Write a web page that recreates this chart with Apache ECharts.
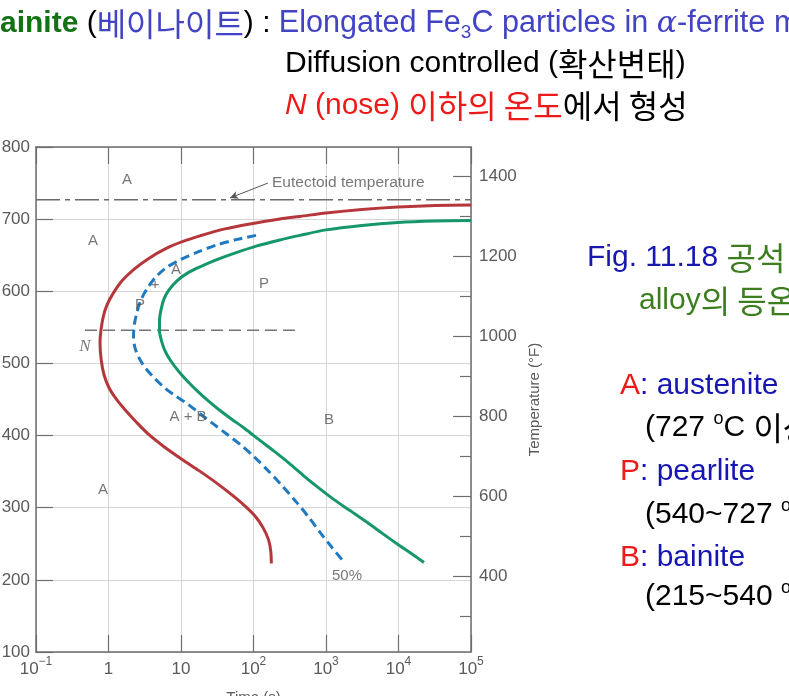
<!DOCTYPE html>
<html><head><meta charset="utf-8">
<script src="https://cdn.jsdelivr.net/npm/echarts@6/dist/echarts.min.js"></script>
<style>html,body{margin:0;padding:0;background:#fff}#c{width:789px;height:696px}</style>
</head><body><div id="c"></div>
<script>
// ---------- data ----------
const timeRange = [0.1, 100000];           // s (log)
const tempRangeC = [100, 800];             // °C
const tempRangeF = [212, 1472];            // °F, same span as °C axis
const tempMajorF = [400, 600, 800, 1000, 1200, 1400];
const tempMinorF = [300, 500, 700, 900, 1100, 1300];

// transformation start (red)
const startCurve = [[100000,719.7],[31870,719.0],[9843,716.9],[3138,713.5],[1000,708.6],[437.8,703.8],
  [232.1,700.3],[98.4,694.1],[40.46,686.5],[18.29,676.8],[10.66,669.1],[6.352,659.7],[3.506,644.9],
  [2.198,629.7],[1.536,614.5],[1.165,597.4],[0.9535,581.2],[0.8479,565.0],[0.7882,546.6],[0.7634,528.6],
  [0.793,505.1],[0.8669,484.3],[1.016,466.3],[1.269,451.1],[1.689,435.8],[2.395,419.2],[3.62,401.2],
  [5.83,384.6],[10,368],[17.71,351.4],[30.39,334.8],[48.95,318.8],[73.96,303.6],[104.9,288.4],
  [135.2,272.4],[161,255.8],[173.3,239.2],[176.1,222.6]];
// 50% transformation (blue dashed)
const halfCurve = [[108.3,677.5],[59.22,671.9],[31.37,664.3],[17.16,654.6],[9.687,643.5],[6.211,632.5],
  [4.378,618.6],[3.396,603.4],[2.808,588.1],[2.473,571.5],[2.284,554.9],[2.213,538.3],[2.321,521.7],
  [2.677,506.5],[3.29,492.6],[4.378,478.8],[6.017,465.6],[8.531,454.5],[12.49,443.4],[18.29,430.3],
  [27.63,416.5],[43.1,401.9],[67.23,386.7],[101.6,370.8],[158.5,351.4],[247.3,330.6],[385.8,308.4],
  [583,286.3],[853.1,264.1],[1210,244.8],[1743,225.4]];
// transformation finish (green)
const finishCurve = [[100000,698.2],[31870,697.5],[9843,695.5],[3138,691.3],[1000,685.1],[437.8,677.5],
  [232.1,671.2],[111.8,662.9],[53.83,652.5],[29.44,642.8],[18.29,633.8],[12.1,624.8],[8.808,614.5],
  [6.831,602],[5.83,589.5],[5.299,574.3],[5.052,559.1],[5.052,545.2],[5.383,531.4],[6.017,517.5],
  [7.278,503],[9.385,488.5],[12.49,474.6],[17.16,460.8],[23.57,448.3],[33.43,435.8],[48.95,423.4],
  [76.33,409.5],[119.1,394.3],[191.8,378.4],[308.9,361.8],[497.3,343.8],[800.7,327.1],[1289,311.2],
  [2143,296],[3562,280.8],[5921,264.8],[9843,248.9],[15360,235.8],[22470,224]];

const eutectoidLine = [[0.1,727],[100000,727]];
const noseLine = [[0.474,546],[373,546]];
const regionLabels = [[1.80,754.3,'A'],[0.61,669.8,'A'],[8.53,629.7,'A'],[4.38,608.9,'+'],[2.72,581.2,'P'],
  [139.6,610.3,'P'],[12.5,426.1,'A + B'],[1099,422,'B'],[0.84,325,'A'],[1950,206,'50%']];
const noseLabel = [[0.474,523,'N']];
const eutectoidLabel = [[180,750.2,'Eutectoid temperature']];
const arrowPath = [[158,750],[47.4,729.4]];

// ---------- chart ----------
const AX = '#6e6e6e', LBL = '#5a5a5a', GRID = '#d6d6d6';
const SANS = '"Liberation Sans", Arial, "Noto Sans CJK KR", sans-serif';
const KR = '"Noto Sans CJK KR", sans-serif';

function timeLabel(v) {
  const e = Math.round(Math.log10(v));
  if (e === 0) return '{b|1}';
  if (e === 1) return '{b|10}';
  const sup = e < 0 ? '\u2212' + Math.abs(e) : String(e);
  return '{b|10}{s|' + sup + '}';
}

const chart = echarts.init(document.getElementById('c'), null, {renderer: 'canvas'});
const txt = (x, y, text, rich) => ({
  type: 'text', x: x, y: y, silent: true,
  style: {text: text, rich: rich, fontSize: 30, lineHeight: 36, fontFamily: SANS, fill: '#000', verticalAlign: 'middle', align: 'left'}
});
const mk = (fill, extra) => Object.assign({fill: fill, fontSize: 30, lineHeight: 36, fontFamily: SANS}, extra || {});
const R = {
  g: mk('#137213', {fontWeight: 'bold'}),
  b: mk('#4343c6'),
  bw: mk('#4343c6', {fontSize: 30.6}),
  bk: mk('#4343c6', {fontSize: 32, fontFamily: KR}),
  bs: mk('#4343c6', {fontSize: 19, lineHeight: 18, verticalAlign: 'bottom'}),
  ba: mk('#4343c6', {fontStyle: 'italic', fontFamily: '"DejaVu Serif", "Liberation Serif", serif'}),
  k: mk('#000'),
  kk: mk('#000', {fontSize: 32, fontFamily: KR}),
  r: mk('#ee1a1a'),
  rk: mk('#ee1a1a', {fontSize: 32, fontFamily: KR}),
  ri: mk('#ee1a1a', {fontStyle: 'italic'}),
  fb: mk('#1818b0'),
  fg: mk('#3c7d1e'),
  fgk: mk('#3c7d1e', {fontSize: 32, fontFamily: KR}),
  db: mk('#1616b4'),
  sup: mk('#000', {fontSize: 18, lineHeight: 18, verticalAlign: 'top'})
};

const option = {
  backgroundColor: '#fff',
  animation: false,
  grid: {left: 36, right: 318, top: 147, bottom: 44, containLabel: false, outerBoundsMode: 'none'},
  xAxis: [{
    type: 'log', logBase: 10, min: timeRange[0], max: timeRange[1],
    name: 'Time (s)', nameLocation: 'middle', nameGap: 38,
    nameTextStyle: {color: LBL, fontSize: 15, fontFamily: SANS},
    axisLine: {show: true, lineStyle: {color: AX, width: 1.5}},
    axisTick: {show: true, inside: true, length: 17, lineStyle: {color: AX, width: 1.2}},
    axisLabel: {show: true, margin: 4, formatter: timeLabel, color: LBL,
      rich: {b: {fontSize: 17, lineHeight: 26, color: LBL, fontFamily: SANS},
             s: {fontSize: 12, lineHeight: 10, verticalAlign: 'top', color: LBL, fontFamily: SANS}}},
    splitLine: {show: true, lineStyle: {color: GRID, width: 1}},
    minorTick: {show: false}
  }, {
    type: 'log', logBase: 10, min: timeRange[0], max: timeRange[1], position: 'top',
    axisLine: {show: true, lineStyle: {color: AX, width: 1.5}},
    axisTick: {show: true, inside: true, length: 17, lineStyle: {color: AX, width: 1.2}},
    axisLabel: {show: false}, splitLine: {show: false}
  }],
  yAxis: [{
    type: 'value', min: tempRangeC[0], max: tempRangeC[1], interval: 100, position: 'left',
    axisLine: {show: true, lineStyle: {color: AX, width: 1.5}},
    axisTick: {show: true, inside: true, length: 17, lineStyle: {color: AX, width: 1.2}},
    axisLabel: {color: LBL, fontSize: 17, margin: 6, fontFamily: SANS},
    splitLine: {show: true, lineStyle: {color: GRID, width: 1}}
  }, {
    type: 'value', min: tempRangeF[0], max: tempRangeF[1], position: 'right',
    name: 'Temperature (\u00B0F)', nameLocation: 'middle', nameGap: 56, nameRotate: 90,
    nameTextStyle: {color: LBL, fontSize: 15, fontFamily: SANS},
    axisLine: {show: true, onZero: false, lineStyle: {color: AX, width: 1.5}},
    axisTick: {show: true, inside: true, length: 18, customValues: tempMajorF, lineStyle: {color: AX, width: 1.2}},
    axisLabel: {show: true, customValues: tempMajorF, formatter: v => String(v), color: LBL, fontSize: 17, margin: 8, fontFamily: SANS},
    splitLine: {show: false}
  }, {
    type: 'value', min: tempRangeF[0], max: tempRangeF[1], position: 'right',
    axisLine: {show: false},
    axisTick: {show: true, inside: true, length: 11, customValues: tempMinorF, lineStyle: {color: AX, width: 1.2}},
    axisLabel: {show: false}, splitLine: {show: false}
  }],
  series: [
    {type: 'line', name: 'start', data: startCurve, smooth: 0.3, symbol: 'none',
     lineStyle: {color: '#b5373b', width: 3}, z: 5},
    {type: 'line', name: '50%', data: halfCurve, smooth: 0.3, symbol: 'none',
     lineStyle: {color: '#1f7ac2', width: 3, type: [9, 5]}, z: 5},
    {type: 'line', name: 'finish', data: finishCurve, smooth: 0.3, symbol: 'none',
     lineStyle: {color: '#15976b', width: 3}, z: 5},
    {type: 'line', name: 'eutectoid', data: eutectoidLine, symbol: 'none',
     lineStyle: {color: '#6a6a6a', width: 1.5, type: [24, 5, 5, 5]}, z: 4},
    {type: 'line', name: 'nose', data: noseLine, symbol: 'none',
     lineStyle: {color: '#747474', width: 1.5, type: [12, 6]}, z: 4},
    {type: 'scatter', data: regionLabels, symbolSize: 0, silent: true, z: 6,
     label: {show: true, position: 'inside', formatter: p => p.data[2], color: '#555', fontSize: 15, fontFamily: SANS}},
    {type: 'scatter', data: noseLabel, symbolSize: 0, silent: true, z: 6,
     label: {show: true, position: 'inside', formatter: p => p.data[2], color: '#555', fontSize: 17,
       fontStyle: 'italic', fontFamily: '"Liberation Serif", "DejaVu Serif", serif'}},
    {type: 'scatter', data: eutectoidLabel, symbolSize: 0, silent: true, z: 6,
     label: {show: true, position: 'inside', align: 'left', formatter: p => p.data[2], color: '#555', fontSize: 15.5, fontFamily: SANS},
     markLine: {silent: true, symbol: ['none', 'arrow'], symbolSize: [6, 8], animation: false,
       label: {show: false},
       lineStyle: {color: '#555', width: 1, type: 'solid', curveness: 0.25},
       data: [[{coord: arrowPath[0]}, {coord: arrowPath[1]}]]}}
  ],
  graphic: [
    txt(-21.7, 24, '{g|Bainite} ({bk|\uBCA0\uC774\uB098\uC774\uD2B8}) : {bw|Elongated Fe}{bs|3}{bw|C particles in }{ba|\u03B1}{bw|-ferrite matrix}', R),
    txt(285, 64, 'Diffusion controlled ({kk|\uD655\uC0B0\uBCC0\uD0DC})', R),
    txt(285, 106, '{ri|N}{r| (nose) }{rk|\uC774\uD558\uC758 \uC628\uB3C4}{kk|\uC5D0\uC11C \uD615\uC131}', R),
    txt(587, 258, '{fb|Fig. 11.18 }{fgk|\uACF5\uC11D \uC870\uC131} {fg|Fe-C}', R),
    txt(639, 301, '{fg|alloy}{fgk|\uC758 \uB4F1\uC628 \uBCC0\uD0DC\uB3C4}', R),
    txt(620, 386, '{r|A}{db|: austenite}', R),
    txt(645, 428, '(727 {sup|o}C {kk|\uC774\uC0C1})', R),
    txt(620, 472, '{r|P}{db|: pearlite}', R),
    txt(645, 515, '(540~727 {sup|o}C)', R),
    txt(620, 558, '{r|B}{db|: bainite}', R),
    txt(645, 597, '(215~540 {sup|o}C)', R)
  ]
};
chart.setOption(option);
</script>
</body></html>
